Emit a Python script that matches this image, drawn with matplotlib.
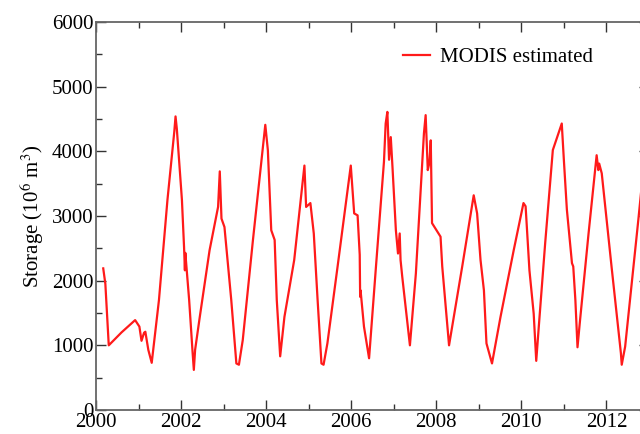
import matplotlib
matplotlib.use("Agg")
import matplotlib.pyplot as plt
from matplotlib.ticker import MultipleLocator

# MODIS estimated reservoir storage (10^6 m^3) by decimal year
years = [2000.17, 2000.22, 2000.30, 2000.60, 2000.92, 2001.02, 2001.07, 2001.13,
         2001.16, 2001.23, 2001.31, 2001.48, 2001.68, 2001.84, 2001.87, 2001.90,
         2002.02, 2002.07, 2002.09, 2002.10, 2002.19, 2002.27, 2002.30, 2002.33,
         2002.44, 2002.67, 2002.87, 2002.91, 2002.95, 2003.02, 2003.18, 2003.30,
         2003.36, 2003.45, 2003.69, 2003.98, 2004.04, 2004.12, 2004.20, 2004.25,
         2004.33, 2004.43, 2004.66, 2004.90, 2004.94, 2005.04, 2005.12, 2005.21,
         2005.30, 2005.35, 2005.44, 2005.68, 2005.99, 2006.07, 2006.15, 2006.20,
         2006.21, 2006.22, 2006.30, 2006.42, 2006.58, 2006.77, 2006.81, 2006.85,
         2006.89, 2006.93, 2006.97, 2007.05, 2007.10, 2007.14, 2007.16, 2007.20,
         2007.38, 2007.52, 2007.71, 2007.75, 2007.80, 2007.84, 2007.87, 2007.90,
         2008.10, 2008.14, 2008.30, 2008.61, 2008.88, 2008.96, 2009.04, 2009.12,
         2009.18, 2009.31, 2009.51, 2009.82, 2010.05, 2010.10, 2010.19, 2010.29,
         2010.35, 2010.41, 2010.56, 2010.74, 2010.95, 2011.00, 2011.07, 2011.19,
         2011.22, 2011.27, 2011.32, 2011.38, 2011.58, 2011.77, 2011.81, 2011.83,
         2011.89, 2012.12, 2012.34, 2012.36, 2012.44, 2012.75, 2012.85]
storage = [2190, 1950, 1000, 1200, 1390, 1290, 1070, 1195,
           1210, 930, 730, 1700, 3250, 4300, 4540, 4350,
           3250, 2520, 2160, 2430, 1700, 900, 620, 930,
           1440, 2470, 3140, 3690, 2960, 2830, 1700, 720,
           700, 1080, 2630, 4410, 4020, 2780, 2630, 1700,
           830, 1440, 2320, 3780, 3140, 3200, 2730, 1700,
           720, 700, 1030, 2220, 3780, 3040, 3010, 2400,
           1750, 1850, 1290, 800, 2200, 3840, 4430, 4610,
           3870, 4220, 3760, 2780, 2420, 2730, 2320, 2060,
           1000, 2110, 4280, 4560, 3710, 3830, 4170, 2890,
           2680, 2220, 1000, 2220, 3320, 3040, 2320, 1850,
           1030, 720, 1440, 2470, 3200, 3150, 2160, 1490,
           760, 1290, 2580, 4020, 4430, 3860, 3100, 2270,
           2220, 1700, 970, 1390, 2730, 3940, 3710, 3810,
           3660, 2220, 880, 700, 980, 2940, 3600]

plt.rcParams['font.family'] = ['Liberation Serif', 'DejaVu Serif']
plt.rcParams['mathtext.fontset'] = 'stix'

fig = plt.figure(figsize=(6.4, 4.34), dpi=100)
ax = fig.add_axes([0.15, 0.0553, 0.864, 0.894])

ax.plot(years, storage, color='#ff1a1a', lw=1.6, label='MODIS estimated')

ax.set_xlim(2000, 2013)
ax.set_ylim(0, 6000)
ax.xaxis.set_major_locator(MultipleLocator(2))
ax.xaxis.set_minor_locator(MultipleLocator(1))
ax.yaxis.set_major_locator(MultipleLocator(1000))
ax.yaxis.set_minor_locator(MultipleLocator(500))
ax.tick_params(which='both', direction='in', top=True, right=True,
               labelsize=15, color='#333333', width=1.0)
ax.tick_params(which='major', length=7.5, pad=2)
ax.tick_params(which='minor', length=4)
for sp in ax.spines.values():
    sp.set_color('#666666')
    sp.set_linewidth(1.3)

ax.set_ylabel(r'Storage (10$^6$ m$^3$)', fontsize=15, labelpad=4)

ax.legend(loc='upper left', bbox_to_anchor=(0.555, 0.935), frameon=False,
          fontsize=15, handlelength=1.3, handletextpad=0.5,
          borderaxespad=0, borderpad=0)

fig.savefig('out.png', dpi=100)
